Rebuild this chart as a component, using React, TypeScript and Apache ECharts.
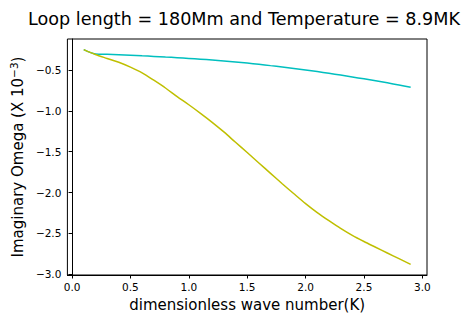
import React, { useEffect, useRef } from "react";
import * as echarts from "echarts";

const kValues = [0.1, 0.2, 0.3, 0.4, 0.5, 0.6, 0.7, 0.8, 0.9, 1.0, 1.1, 1.2, 1.3, 1.4, 1.5, 1.6, 1.7, 1.8, 1.9, 2.0, 2.1, 2.2, 2.3, 2.4, 2.5, 2.6, 2.7, 2.8, 2.9];
const cyanValues = [-0.25, -0.303, -0.308, -0.313, -0.319, -0.326, -0.333, -0.341, -0.349, -0.358, -0.367, -0.377, -0.388, -0.401, -0.415, -0.43, -0.446, -0.462, -0.48, -0.499, -0.519, -0.54, -0.562, -0.585, -0.608, -0.632, -0.657, -0.684, -0.712];
const yellowValues = [-0.25, -0.31, -0.358, -0.405, -0.465, -0.535, -0.625, -0.72, -0.825, -0.925, -1.03, -1.14, -1.258, -1.385, -1.51, -1.638, -1.765, -1.892, -2.015, -2.135, -2.245, -2.345, -2.44, -2.525, -2.6, -2.67, -2.74, -2.81, -2.88];
const xTicks = [0, 0.5, 1.0, 1.5, 2.0, 2.5, 3.0];
const yTicks = [-3.0, -2.5, -2.0, -1.5, -1.0, -0.5];

const FONT = "DejaVu Sans";

export default function App() {
  const ref = useRef<HTMLDivElement>(null);
  useEffect(() => {
    if (!ref.current) return;
    const chart = echarts.init(ref.current, null, { renderer: "svg" });
    const fmt = (v: number) => v.toFixed(1).replace("-", "\u2212");
    chart.setOption({
      animation: false,
      backgroundColor: "#ffffff",
      title: {
        text: "Loop length = 180Mm and Temperature = 8.9MK",
        left: 239,
        textAlign: "center",
        top: 5,
        textStyle: { fontFamily: FONT, fontSize: 17.6, fontWeight: "normal", color: "#000" },
      },
      grid: {
        left: 63,
        right: 35,
        top: 39,
        bottom: 45,
        show: true,
        borderColor: "#000",
        borderWidth: 1,
        backgroundColor: "transparent",
      },
      xAxis: {
        type: "value",
        min: -0.04,
        max: 3.04,
        name: "dimensionless wave number(K)",
        nameLocation: "middle",
        nameGap: 22,
        nameTextStyle: { fontFamily: FONT, fontSize: 15, color: "#000" },
        axisLine: { show: true, lineStyle: { color: "#000", width: 1 } },
        axisTick: { show: true, length: 3.5, customValues: xTicks, lineStyle: { color: "#000" } },
        axisLabel: { customValues: xTicks, formatter: fmt, fontFamily: FONT, fontSize: 10.5, color: "#000", margin: 6 },
        splitLine: { show: false },
      },
      yAxis: {
        type: "value",
        min: -3.01,
        max: -0.12,
        name: "{n|Imaginary Omega (X 10}{s|\u22123}{n|)}",
        nameLocation: "middle",
        nameGap: 38,
        nameRotate: 90,
        nameTextStyle: {
          fontFamily: FONT,
          fontSize: 15,
          color: "#000",
          rich: {
            n: { fontFamily: FONT, fontSize: 15, color: "#000" },
            s: { fontFamily: FONT, fontSize: 10.5, color: "#000", verticalAlign: "top", padding: [0, 0, 8, 0] },
          },
        },
        axisLine: { show: true, lineStyle: { color: "#000", width: 1 } },
        axisTick: { show: true, length: 3.5, customValues: yTicks, lineStyle: { color: "#000" } },
        axisLabel: { customValues: yTicks, formatter: fmt, fontFamily: FONT, fontSize: 10.5, color: "#000", margin: 6 },
        splitLine: { show: false },
      },
      series: [
        {
          type: "line",
          data: kValues.map((k, i) => [k, cyanValues[i]]),
          showSymbol: false,
          smooth: 0.3,
          lineStyle: { color: "#00bfbf", width: 1.5 },
        },
        {
          type: "line",
          data: kValues.map((k, i) => [k, yellowValues[i]]),
          showSymbol: false,
          smooth: 0.3,
          lineStyle: { color: "#bfbf00", width: 1.5 },
        },
      ],
    });
    return () => chart.dispose();
  }, []);
  return <div ref={ref} style={{ width: 462, height: 320, position: "absolute", left: 0, top: 0 }} />;
}
